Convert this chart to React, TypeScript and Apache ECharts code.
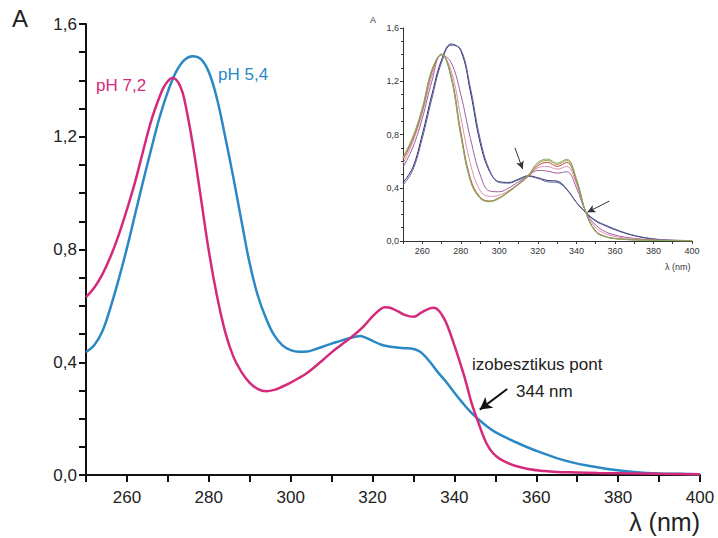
import React, { useEffect, useRef } from "react";
import * as echarts from "echarts";

// ---- Main chart data (λ in nm, absorbance) ----
const WL_PH72 = [250, 252, 254, 256, 258, 260, 262, 264, 266, 268, 269, 270, 271, 272, 273, 274, 276, 278, 280, 282, 284, 286, 288, 290, 292, 294, 296, 298, 300, 302, 304, 306, 308, 310, 312, 314, 316, 318, 320, 322, 323, 324, 326, 328, 330, 332, 334, 335, 336, 337, 338, 340, 342, 343, 344, 345, 346, 347, 348, 349.4, 351, 353, 355, 358, 362, 365, 370, 375, 380, 390, 400];
const ABS_PH72 = [0.631, 0.664, 0.712, 0.775, 0.852, 0.942, 1.04, 1.152, 1.26, 1.343, 1.376, 1.397, 1.408, 1.403, 1.38, 1.335, 1.18, 0.99, 0.795, 0.635, 0.508, 0.42, 0.365, 0.327, 0.305, 0.297, 0.302, 0.314, 0.328, 0.344, 0.362, 0.385, 0.41, 0.435, 0.458, 0.48, 0.503, 0.53, 0.563, 0.589, 0.595, 0.594, 0.582, 0.567, 0.561, 0.577, 0.591, 0.593, 0.586, 0.567, 0.54, 0.46, 0.37, 0.32, 0.265, 0.22, 0.18, 0.14, 0.108, 0.078, 0.058, 0.043, 0.032, 0.021, 0.014, 0.011, 0.009, 0.007, 0.006, 0.004, 0.003];

const WL_PH54 = [250, 252, 254, 256, 258, 260, 262, 264, 266, 268, 270, 272, 274, 276, 278, 280, 282, 284, 286, 288, 290, 292, 294, 296, 298, 300, 302, 304, 306, 308, 310, 312, 314, 316, 317, 318, 320, 322, 324, 326, 328, 330, 331, 332, 334, 336, 338, 340, 342, 344, 346, 348, 350, 353, 356, 360, 365, 369, 373, 377, 382, 386, 390, 395, 400];
const ABS_PH54 = [0.436, 0.46, 0.51, 0.595, 0.695, 0.805, 0.925, 1.045, 1.16, 1.27, 1.36, 1.43, 1.472, 1.486, 1.476, 1.43, 1.335, 1.2, 1.055, 0.9, 0.75, 0.635, 0.555, 0.495, 0.46, 0.443, 0.437, 0.438, 0.446, 0.456, 0.466, 0.475, 0.484, 0.491, 0.493, 0.489, 0.476, 0.463, 0.456, 0.452, 0.45, 0.447, 0.442, 0.433, 0.402, 0.364, 0.33, 0.292, 0.256, 0.223, 0.196, 0.172, 0.152, 0.13, 0.11, 0.086, 0.06, 0.044, 0.032, 0.022, 0.013, 0.008, 0.005, 0.004, 0.003];

// ---- Inset data (5 nm steps) ----
const WL_INSET = [250, 255, 260, 265, 270, 275, 280, 285, 290, 295, 300, 305, 310, 315, 320, 325, 330, 335, 340, 345, 350, 355, 360, 365, 370, 375, 380, 385, 390, 395, 400];
const INSET_NAVY = [0.44, 0.55, 0.8, 1.1, 1.36, 1.48, 1.43, 1.12, 0.74, 0.52, 0.445, 0.44, 0.465, 0.49, 0.475, 0.455, 0.45, 0.39, 0.29, 0.21, 0.15, 0.115, 0.085, 0.06, 0.04, 0.025, 0.015, 0.008, 0.005, 0.004, 0.003];
const INSET_SLATE = [0.42, 0.53, 0.77, 1.07, 1.34, 1.47, 1.44, 1.15, 0.77, 0.53, 0.44, 0.435, 0.46, 0.485, 0.47, 0.445, 0.44, 0.385, 0.29, 0.215, 0.155, 0.12, 0.09, 0.063, 0.042, 0.027, 0.016, 0.009, 0.006, 0.004, 0.003];
const INSET_PURPLE = [0.555, 0.7, 0.92, 1.2, 1.4, 1.34, 1.1, 0.77, 0.5, 0.375, 0.37, 0.4, 0.445, 0.49, 0.53, 0.525, 0.51, 0.52, 0.4, 0.215, 0.12, 0.07, 0.045, 0.03, 0.02, 0.013, 0.008, 0.005, 0.004, 0.003, 0.002];
const INSET_PINK = [0.58, 0.74, 0.96, 1.24, 1.4, 1.28, 0.93, 0.58, 0.38, 0.335, 0.345, 0.38, 0.43, 0.485, 0.55, 0.56, 0.54, 0.56, 0.43, 0.215, 0.1, 0.055, 0.035, 0.022, 0.015, 0.01, 0.007, 0.005, 0.004, 0.003, 0.002];
const INSET_RED = [0.61, 0.76, 0.98, 1.27, 1.4, 1.24, 0.82, 0.47, 0.33, 0.3, 0.325, 0.37, 0.425, 0.485, 0.565, 0.59, 0.56, 0.59, 0.45, 0.21, 0.075, 0.035, 0.02, 0.013, 0.009, 0.007, 0.005, 0.004, 0.003, 0.002, 0.002];
const INSET_OLIVE = [0.62, 0.77, 0.99, 1.28, 1.405, 1.23, 0.8, 0.455, 0.325, 0.297, 0.325, 0.375, 0.43, 0.49, 0.58, 0.605, 0.575, 0.605, 0.46, 0.21, 0.07, 0.033, 0.018, 0.012, 0.009, 0.007, 0.005, 0.004, 0.003, 0.002, 0.002];
const INSET_GREEN = [0.63, 0.78, 1.0, 1.29, 1.4, 1.22, 0.79, 0.45, 0.32, 0.295, 0.32, 0.37, 0.43, 0.495, 0.59, 0.615, 0.585, 0.615, 0.47, 0.21, 0.068, 0.032, 0.017, 0.011, 0.008, 0.006, 0.005, 0.004, 0.003, 0.002, 0.002];

const Y_TICKS_MAX = 1.6;

const pairs = (xs: number[], ys: number[]) => xs.map((x, i) => [x, ys[i]]);
const commaFmt = (v: number) => v.toFixed(1).replace(".", ",");
const xFmt = (v: number) => (v % 20 === 0 ? String(v) : "");

const FONT = "Liberation Sans, Arial, sans-serif";
const MAGENTA = "#d42a7c";
const BLUE = "#2a88c4";

export default function App() {
  const ref = useRef<HTMLDivElement>(null);
  useEffect(() => {
    if (!ref.current) return;
    const chart = echarts.init(ref.current, undefined, { renderer: "svg" });

    const mainAxisLine = { lineStyle: { color: "#111", width: 2 } };
    const insetAxisLine = { lineStyle: { color: "#333", width: 1 } };

    const insetColors = ["#2b2f6e", "#5a5e96", "#9b5ea0", "#d891b4", "#c9464a", "#a39c3a", "#7fae6a"];
    const insetData = [INSET_NAVY, INSET_SLATE, INSET_PURPLE, INSET_PINK, INSET_RED, INSET_OLIVE, INSET_GREEN];

    const option: any = {
      animation: false,
      textStyle: { fontFamily: FONT },
      grid: [
        { left: 86, top: 24, right: 18, bottom: 63 },
        { left: 403, top: 28, width: 289, height: 213 },
      ],
      xAxis: [
        {
          gridIndex: 0, type: "value", min: 250, max: 400, interval: 10,
          axisLine: mainAxisLine,
          axisTick: { show: true, inside: false, length: 7, lineStyle: { color: "#111", width: 2 } },
          axisLabel: { formatter: xFmt, fontSize: 17, color: "#222", margin: 14, fontFamily: FONT },
          splitLine: { show: false },
        },
        {
          gridIndex: 1, type: "value", min: 250, max: 400, interval: 10,
          axisLine: insetAxisLine,
          axisTick: { show: true, length: 3, lineStyle: { color: "#333", width: 1 } },
          axisLabel: { formatter: xFmt, fontSize: 9, color: "#333", margin: 5, fontFamily: FONT },
          splitLine: { show: false },
        },
      ],
      yAxis: [
        {
          gridIndex: 0, type: "value", min: 0, max: Y_TICKS_MAX, interval: 0.4,
          axisLine: { show: true, ...mainAxisLine },
          axisTick: { show: true, length: 7, lineStyle: { color: "#111", width: 2 } },
          minorTick: { show: true, splitNumber: 4, length: 7, lineStyle: { color: "#111", width: 2 } },
          axisLabel: { formatter: commaFmt, fontSize: 17, color: "#222", margin: 9, fontFamily: FONT },
          splitLine: { show: false },
        },
        {
          gridIndex: 1, type: "value", min: 0, max: Y_TICKS_MAX, interval: 0.4,
          axisLine: { show: true, ...insetAxisLine },
          axisTick: { show: true, length: 3, lineStyle: { color: "#333", width: 1 } },
          minorTick: { show: true, splitNumber: 4, length: 2, lineStyle: { color: "#333", width: 1 } },
          axisLabel: { formatter: commaFmt, fontSize: 9, color: "#333", margin: 4, fontFamily: FONT },
          splitLine: { show: false },
        },
      ],
      series: [
        ...insetData.map((arr, i) => ({
          type: "line", xAxisIndex: 1, yAxisIndex: 1,
          data: pairs(WL_INSET, arr), smooth: 0.4, showSymbol: false,
          lineStyle: { color: insetColors[i], width: 1 },
          z: 2,
        })),
        {
          type: "line", xAxisIndex: 1, yAxisIndex: 1, data: [], showSymbol: false,
          markLine: {
            silent: true, symbol: ["none", "arrow"], symbolSize: [6, 8],
            lineStyle: { color: "#333", width: 1, type: "solid" },
            label: { show: false },
            data: [
              [{ coord: [308.1, 0.7] }, { coord: [312.1, 0.54] }],
              [{ coord: [357.1, 0.3] }, { coord: [345.7, 0.216] }],
            ],
          },
        },
        {
          name: "pH 5,4", type: "line", xAxisIndex: 0, yAxisIndex: 0,
          data: pairs(WL_PH54, ABS_PH54), smooth: 0.4, showSymbol: false,
          lineStyle: { color: BLUE, width: 2.5 }, z: 3,
        },
        {
          name: "pH 7,2", type: "line", xAxisIndex: 0, yAxisIndex: 0,
          data: pairs(WL_PH72, ABS_PH72), smooth: 0.4, showSymbol: false,
          lineStyle: { color: MAGENTA, width: 2.5 }, z: 4,
          markLine: {
            silent: true, symbol: ["none", "arrow"], symbolSize: [10, 12],
            lineStyle: { color: "#111", width: 2, type: "solid" },
            label: { show: false },
            data: [[{ coord: [352.9, 0.305] }, { coord: [346.2, 0.232] }]],
          },
        },
      ],
      graphic: [
        { type: "text", left: 12, top: 6, style: { text: "A", fontSize: 24, fill: "#222", fontFamily: FONT } },
        { type: "text", right: 18, top: 509, style: { text: "λ (nm)", fontSize: 25, fill: "#222", fontFamily: FONT } },
        { type: "text", left: 96, top: 77, style: { text: "pH 7,2", fontSize: 17, fill: MAGENTA, fontFamily: FONT } },
        { type: "text", left: 218, top: 66, style: { text: "pH 5,4", fontSize: 17, fill: BLUE, fontFamily: FONT } },
        { type: "text", left: 472, top: 356, style: { text: "izobesztikus pont", fontSize: 17, fill: "#222", fontFamily: FONT } },
        { type: "text", left: 516, top: 383, style: { text: "344 nm", fontSize: 17, fill: "#222", fontFamily: FONT } },
        { type: "text", left: 370, top: 15, style: { text: "A", fontSize: 9, fill: "#333", fontFamily: FONT } },
        { type: "text", left: 665, top: 262, style: { text: "λ (nm)", fontSize: 9, fill: "#333", fontFamily: FONT } },
      ],
    };
    chart.setOption(option);
    return () => chart.dispose();
  }, []);
  return <div ref={ref} style={{ width: 718, height: 538, position: "fixed", left: 0, top: 0, background: "#fff" }} />;
}
